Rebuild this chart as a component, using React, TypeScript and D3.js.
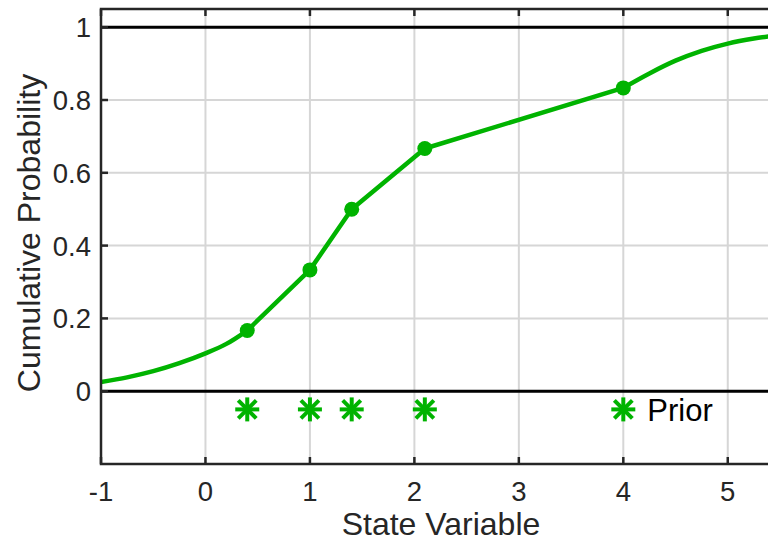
import React from 'react'
import * as d3 from 'd3'

// posterior CDF knots (state value, cumulative probability)
const knotX = [0.4, 1, 1.4, 2.1, 4]
const knotY = [0.1667, 0.3333, 0.5, 0.6667, 0.8333]

// smooth tails
const leftTailX = [-1, -0.75, -0.5, -0.25, 0, 0.2, 0.4]
const leftTailY = [0.025, 0.038, 0.055, 0.077, 0.104, 0.13, 0.1667]
const rightTailX = [4, 4.25, 4.5, 4.75, 5, 5.25, 5.5]
const rightTailY = [0.8333, 0.873, 0.908, 0.935, 0.955, 0.969, 0.979]

// prior samples drawn as asterisks below zero
const priorX = [0.4, 1, 1.4, 2.1, 4]
const priorY = -0.05

const xTicks = [-1, 0, 1, 2, 3, 4, 5]
const yTicks = [0, 0.2, 0.4, 0.6, 0.8, 1]

const W = 768
const H = 544
const font = '"Liberation Sans", Arial, Helvetica, sans-serif'
const green = '#00b300'
const axisColor = '#262626'

export default function App() {
  const left = 101
  const right = 780
  const top = 9
  const bottom = 464

  const x = d3.scaleLinear().domain([-1, 5.5]).range([left, right])
  const y = d3.scaleLinear().domain([-0.2, 1.05]).range([bottom, top])

  const smooth = d3.line<any>()
    .x((d: any) => x(d[0]))
    .y((d: any) => y(d[1]))
    .curve(d3.curveMonotoneX)
  const straight = d3.line<any>()
    .x((d: any) => x(d[0]))
    .y((d: any) => y(d[1]))

  const leftPts = leftTailX.map((v, i) => [v, leftTailY[i]])
  const rightPts = rightTailX.map((v, i) => [v, rightTailY[i]])
  const midPts = knotX.map((v, i) => [v, knotY[i]])

  const arm = 12
  const diag = 9

  return (
    <div style={{ position: 'fixed', left: 0, top: 0 }}>
      <svg width={W} height={H} style={{ display: 'block', background: '#fff' }}>
        <defs>
          <clipPath id="plotClip">
            <rect x={left} y={top} width={right - left} height={bottom - top} />
          </clipPath>
        </defs>

        {/* grid */}
        <g stroke="#d6d6d6" strokeWidth={2}>
          {xTicks.map(t => (
            <line key={'gx' + t} x1={x(t)} x2={x(t)} y1={top} y2={bottom} />
          ))}
          {yTicks.map(t => (
            <line key={'gy' + t} x1={left} x2={right} y1={y(t)} y2={y(t)} />
          ))}
        </g>

        {/* reference lines at 0 and 1 */}
        <g stroke="#000" strokeWidth={3}>
          <line x1={left} x2={right} y1={y(0)} y2={y(0)} />
          <line x1={left} x2={right} y1={y(1)} y2={y(1)} />
        </g>

        <g clipPath="url(#plotClip)">
          <path d={smooth(leftPts) || ''} fill="none" stroke={green} strokeWidth={4.5} />
          <path d={straight(midPts) || ''} fill="none" stroke={green} strokeWidth={4.5} strokeLinejoin="round" />
          <path d={smooth(rightPts) || ''} fill="none" stroke={green} strokeWidth={4.5} />
          {knotX.map((v, i) => (
            <circle key={'k' + i} cx={x(v)} cy={y(knotY[i])} r={7.5} fill={green} />
          ))}
          {priorX.map((v, i) => {
            const cx = x(v)
            const cy = y(priorY)
            return (
              <g key={'p' + i} stroke={green} strokeWidth={4}>
                <line x1={cx} x2={cx} y1={cy - arm} y2={cy + arm} />
                <line x1={cx - arm} x2={cx + arm} y1={cy} y2={cy} />
                <line x1={cx - diag} x2={cx + diag} y1={cy - diag} y2={cy + diag} />
                <line x1={cx - diag} x2={cx + diag} y1={cy + diag} y2={cy - diag} />
              </g>
            )
          })}
        </g>

        <text x={x(4) + 24} y={421} fontFamily={font} fontSize={31} fill="#000">Prior</text>

        {/* axes box and ticks */}
        <rect x={left} y={top} width={right - left} height={bottom - top} fill="none" stroke={axisColor} strokeWidth={2.5} />
        <g stroke={axisColor} strokeWidth={2.5}>
          {xTicks.map(t => (
            <React.Fragment key={'tx' + t}>
              <line x1={x(t)} x2={x(t)} y1={bottom} y2={bottom - 7} />
              <line x1={x(t)} x2={x(t)} y1={top} y2={top + 7} />
            </React.Fragment>
          ))}
          {yTicks.map(t => (
            <line key={'ty' + t} x1={left} x2={left + 7} y1={y(t)} y2={y(t)} />
          ))}
        </g>

        <g fontFamily={font} fontSize={27.5} fill={axisColor}>
          {xTicks.map(t => (
            <text key={'lx' + t} x={x(t)} y={501} textAnchor="middle">{t}</text>
          ))}
          {yTicks.map(t => (
            <text key={'ly' + t} x={91} y={y(t) + 10} textAnchor="end">{t}</text>
          ))}
        </g>

        <text x={441} y={535} textAnchor="middle" fontFamily={font} fontSize={32} fill={axisColor}>State Variable</text>
        <text transform={`translate(40, 233) rotate(-90)`} textAnchor="middle" fontFamily={font} fontSize={32} fill={axisColor}>Cumulative Probability</text>
      </svg>
    </div>
  )
}
